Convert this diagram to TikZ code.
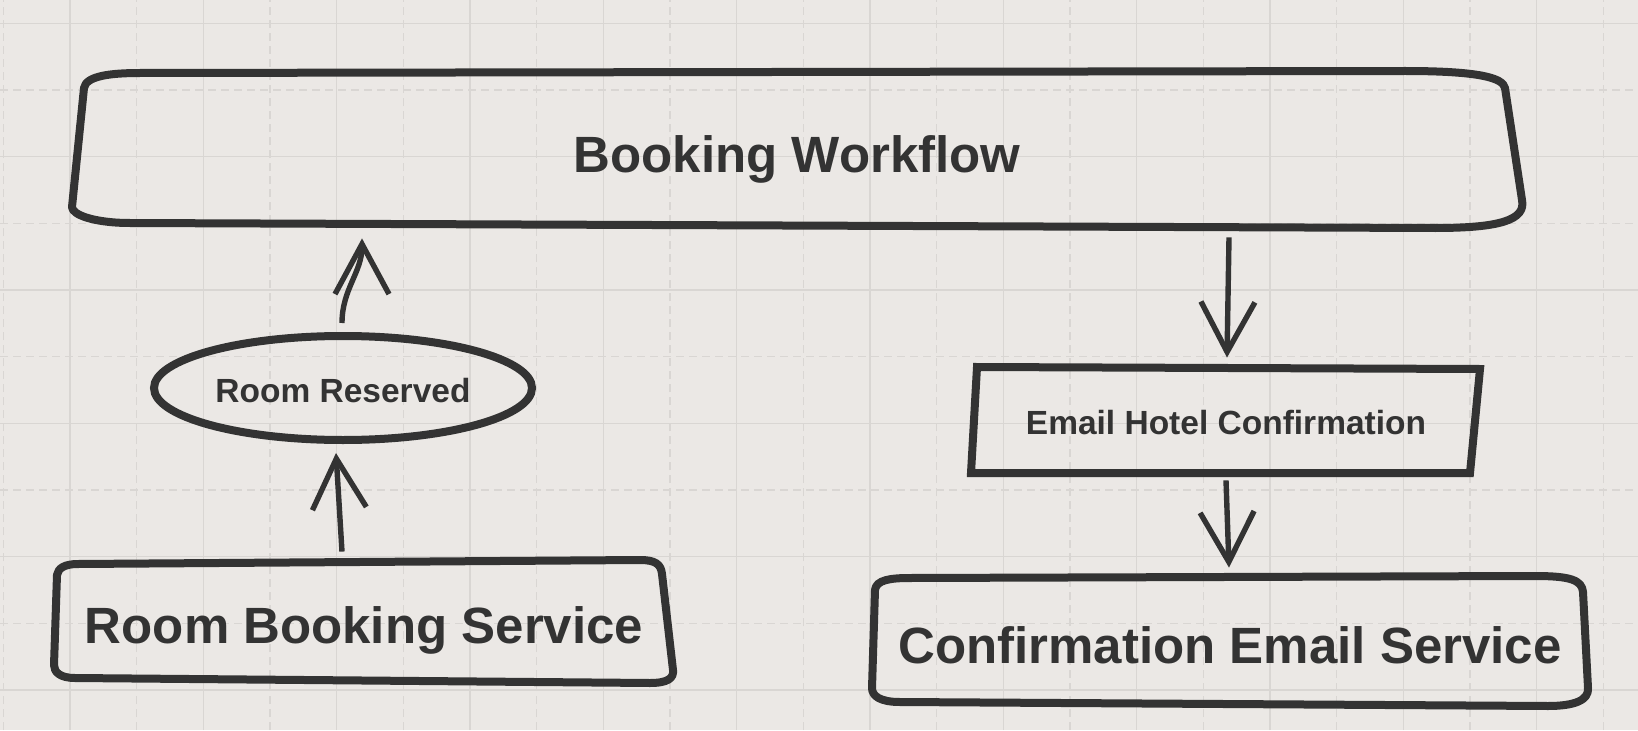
\documentclass[tikz,border=0pt]{standalone}
\usepackage{fontspec}
\setmainfont{Liberation Sans}
\usetikzlibrary{shapes.geometric,arrows.meta,calc}
\definecolor{ink}{HTML}{333333}
\definecolor{paper}{HTML}{EBE8E5}
\definecolor{gridln}{HTML}{D9D6D3}

\begin{document}
\begin{tikzpicture} [
        x = 0.5pt, y = 0.5pt,
        every node/.style = {inner sep=0pt, text=ink},
        box/.style = {rectangle, draw=none, text height=22.3pt, text depth=0pt,
                      font=\bfseries\fontsize{25.5pt}{30pt}\selectfont},
        ev/.style = {text height=14pt, text depth=0pt,
                     font=\bfseries\fontsize{16.75pt}{20pt}\selectfont},
        outline/.style = {draw=ink, line width=4pt, line join=round},
        flow/.style = {draw=ink, line width=2.7pt,
                       -{Straight Barb[length=25pt, width=27pt]}},
        major/.style = {gridln, line width=0.7pt},
        minor/.style = {gridln, line width=0.7pt, dash pattern=on 4pt off 2.5pt}
    ]

    \useasboundingbox (0,0) rectangle (1638,730);
    \fill[paper] (0,0) rectangle (1638,730);

    % grid
    \foreach \i in {0,...,12} \draw[minor] ({3.3+133.33*\i},0) -- ++(0,730);
    \foreach \i in {0,...,4} \draw[minor] (0,{106.7+133.33*\i}) -- ++(1638,0);
    \foreach \i in {0,...,11} \draw[major] ({70+133.33*\i},0) -- ++(0,730);
    \foreach \i in {0,...,5} \draw[major] (0,{40+133.33*\i}) -- ++(1638,0);

    % nodes
    \node[box, minimum width=725pt, minimum height=78.5pt] (bw) at (797,580) {Booking Workflow};
    \node[ev, ellipse, draw=ink, line width=4pt, minimum width=189pt, minimum height=52pt]
        (rr) at (343,342) {Room Reserved};
    \node[box, minimum width=310pt, minimum height=61.5pt] (rbs) at (364,109) {Room Booking Service};
    \node[ev, rectangle, minimum width=252.5pt, minimum height=53pt] (ehc) at (1226,310) {Email Hotel Confirmation};
    \node[box, minimum width=358pt, minimum height=64pt] (ces) at (1230,89) {Confirmation Email Service};

    % sketchy outlines
    \draw[outline] (140,657) -- (1405,659) .. controls (1480,659) and (1503,652) .. (1505,642)
        -- (1522,530) .. controls (1526,510) and (1500,502) .. (1435,502)
        -- (130,507) .. controls (95,507) and (72,515) .. (72,523)
        -- (84,642) .. controls (86,654) and (110,657) .. (140,657) -- cycle;
    \draw[outline, line join=miter] (977,363) -- (1480,361) -- (1470,257) -- (971,257) -- cycle;
    \draw[outline] (78,166) -- (640,170) .. controls (655,170) and (661,166) .. (662,156)
        -- (673,60) .. controls (674,52) and (668,47) .. (650,47)
        -- (75,52) .. controls (60,52) and (54,58) .. (54,65)
        -- (57,155) .. controls (58,162) and (65,166) .. (78,166) -- cycle;
    \draw[outline] (910,152) -- (1535,154) .. controls (1570,154) and (1582,150) .. (1583,138)
        -- (1588,42) .. controls (1589,30) and (1575,24) .. (1548,24)
        -- (900,28) .. controls (880,28) and (872,34) .. (872,42)
        -- (875,140) .. controls (876,150) and (890,152) .. (910,152) -- cycle;

    % connectors
    \draw[flow] ($(rbs.north)+(-22,7.5)$) -- ($(rr.south)+(-7,-9)$);
    \draw[flow] ($(rr.north)+(-1,9)$) to[out=90, in=-90] ($(bw.south)+(-435,-9.5)$);
    \draw[flow] ($(ehc.north |- bw.south)+(3,-8.5)$) -- ($(ehc.north)+(1,9)$);
    \draw[flow] ($(ehc.south)+(0,-7)$) -- ($(ces.north)+(-1,9)$);

\end{tikzpicture}
\end{document}
